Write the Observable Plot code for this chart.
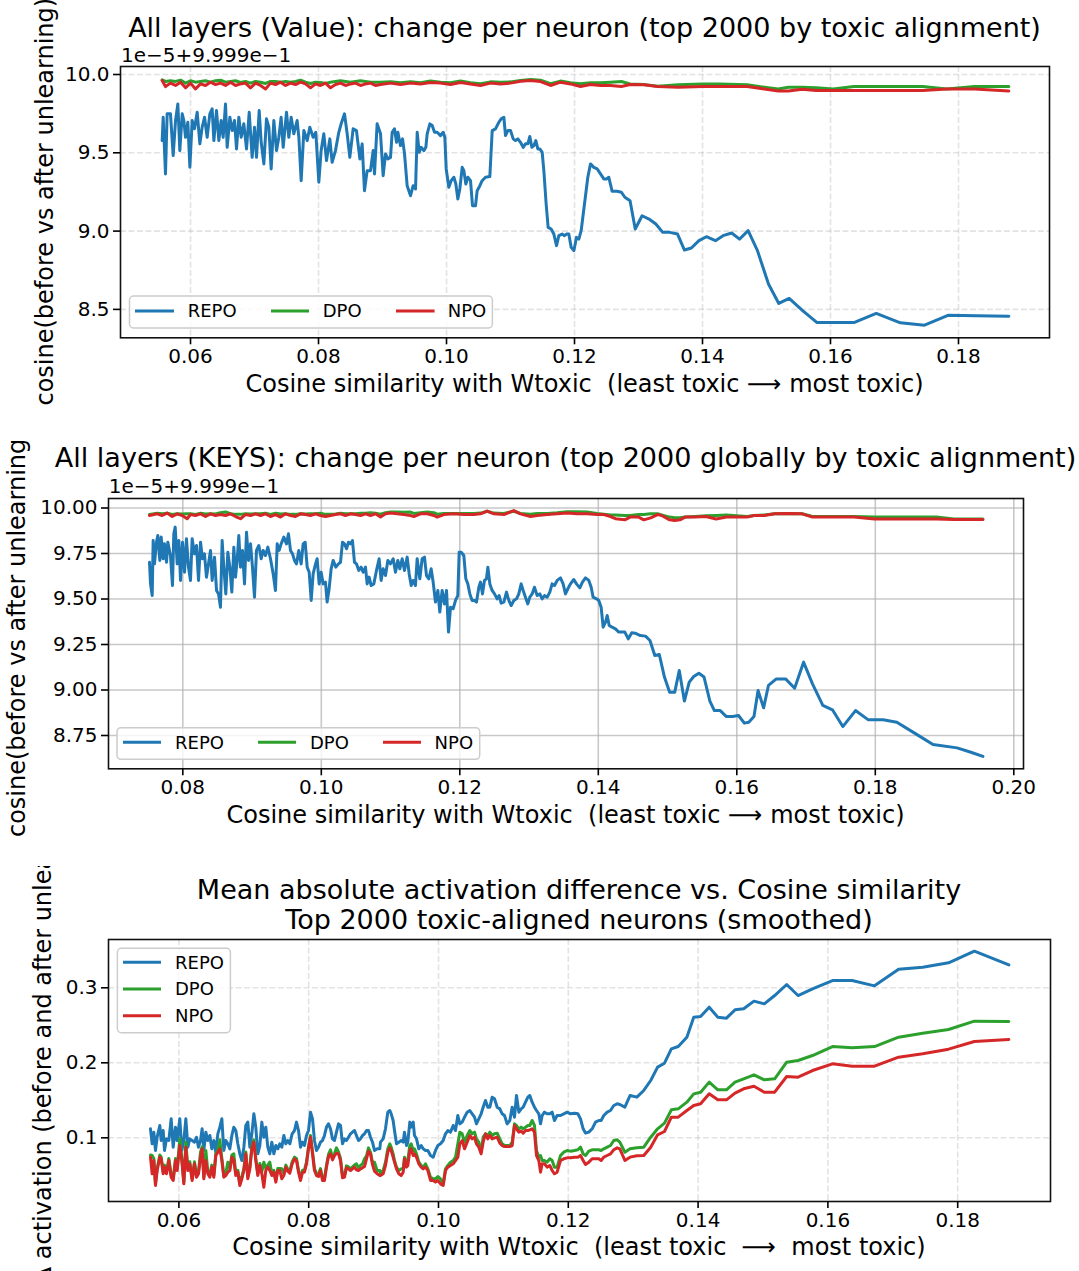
<!DOCTYPE html>
<html>
<head>
<meta charset="utf-8">
<script src="https://cdn.jsdelivr.net/npm/d3@7"></script>
<script src="https://cdn.jsdelivr.net/npm/@observablehq/plot@0.6"></script>
<style>
  html, body { margin: 0; padding: 0; background: #fff; }
  #page { position: relative; width: 1079px; height: 1271px; overflow: hidden; background: #fff; }
  .panel { position: absolute; left: 0; width: 1079px; overflow: hidden; }
  .panel svg { display: block; }
</style>
</head>
<body>
<div id="page"></div>
<script>
// ---------------------------------------------------------------------------
// Series
// ---------------------------------------------------------------------------
const methods = ["REPO", "DPO", "NPO"];
const methodColors = ["#1f77b4", "#2ca02c", "#d62728"];

// Value vectors: cosine(before, after) expressed as offset (x1e-5) from 0.9999
const valueRepoX = [
  0.05557, 0.05573, 0.05609, 0.05635, 0.05687, 0.05729, 0.05766, 0.05802, 0.05833, 0.05870,
  0.05896, 0.05922, 0.05958, 0.05990, 0.06026, 0.06062, 0.06104, 0.06146, 0.06182, 0.06219,
  0.06260, 0.06302, 0.06338, 0.06365, 0.06406, 0.06443, 0.06479, 0.06510, 0.06547, 0.06573,
  0.06615, 0.06651, 0.06687, 0.06719, 0.06755, 0.06792, 0.06833, 0.06875, 0.06917, 0.06963,
  0.07000, 0.07031, 0.07073, 0.07104, 0.07146, 0.07187, 0.07224, 0.07260, 0.07302, 0.07344,
  0.07380, 0.07416, 0.07448, 0.07500, 0.07536, 0.07573, 0.07614, 0.07666, 0.07693, 0.07729,
  0.07771, 0.07823, 0.07864, 0.07916, 0.07958, 0.08005, 0.08041, 0.08083, 0.08125, 0.08177,
  0.08213, 0.08265, 0.08317, 0.08354, 0.08406, 0.08448, 0.08489, 0.08541, 0.08593, 0.08646,
  0.08682, 0.08718, 0.08760, 0.08812, 0.08854, 0.08875, 0.08916, 0.08969,
  0.09010, 0.09047, 0.09083, 0.09125, 0.09151, 0.09187, 0.09219, 0.09240, 0.09281, 0.09313,
  0.09344, 0.09385, 0.09438, 0.09479, 0.09516, 0.09542, 0.09573, 0.09604, 0.09646, 0.09677,
  0.09698, 0.09740, 0.09776, 0.09813, 0.09854, 0.09906, 0.09948, 0.09974, 0.09995, 0.10036,
  0.10073, 0.10115, 0.10146, 0.10177, 0.10208, 0.10245, 0.10271, 0.10302, 0.10333, 0.10375,
  0.10406, 0.10453, 0.10479, 0.10521, 0.10557, 0.10609, 0.10677, 0.10714, 0.10766, 0.10818,
  0.10854, 0.10896, 0.10922, 0.10958, 0.11000, 0.11042, 0.11078, 0.11115, 0.11156, 0.11198,
  0.11234, 0.11271, 0.11302, 0.11333, 0.11365, 0.11396, 0.11427, 0.11458, 0.11495, 0.11521,
  0.11557, 0.11588, 0.11635, 0.11677, 0.11719, 0.11755, 0.11807, 0.11844, 0.11875, 0.11911,
  0.11948, 0.11990, 0.12031, 0.12068, 0.12104, 0.12156, 0.12208, 0.12250, 0.12302, 0.12354,
  0.12406, 0.12458, 0.12500, 0.12536, 0.12588, 0.12666,
  0.12733, 0.12787, 0.12868, 0.12949, 0.13056, 0.13164, 0.13271, 0.13379, 0.13487, 0.13610,
  0.13718, 0.13826, 0.13944, 0.14062, 0.14202, 0.14321, 0.14455, 0.14579, 0.14713, 0.14859,
  0.15031, 0.15192, 0.15354, 0.15569, 0.15790, 0.16016, 0.16366, 0.16715, 0.17092, 0.17469,
  0.17845, 0.18276, 0.18787
];
const valueRepoY = [
  9.578, 9.727, 9.365, 9.749, 9.749, 9.482, 9.706, 9.812, 9.514, 9.749,
  9.706, 9.599, 9.695, 9.408, 9.706, 9.653, 9.759, 9.557, 9.663, 9.727,
  9.599, 9.749, 9.781, 9.578, 9.770, 9.578, 9.706, 9.599, 9.812, 9.535,
  9.727, 9.642, 9.706, 9.525, 9.727, 9.599, 9.685, 9.525, 9.759, 9.471,
  9.663, 9.471, 9.770, 9.567, 9.429, 9.717, 9.663, 9.397, 9.706, 9.514,
  9.599, 9.727, 9.535, 9.759, 9.599, 9.727, 9.621, 9.706, 9.599, 9.322,
  9.642, 9.578, 9.663, 9.599, 9.631, 9.312, 9.514, 9.621, 9.450, 9.589,
  9.439, 9.514, 9.631, 9.685, 9.749, 9.621, 9.471, 9.653, 9.642, 9.461,
  9.557, 9.258, 9.386, 9.386, 9.514, 9.365, 9.685, 9.621,
  9.354, 9.493, 9.461, 9.471, 9.631, 9.653, 9.567, 9.631, 9.546, 9.589,
  9.493, 9.290, 9.226, 9.290, 9.269, 9.631, 9.503, 9.535, 9.514, 9.535,
  9.621, 9.685, 9.674, 9.631, 9.631, 9.610, 9.631, 9.599, 9.397, 9.280,
  9.322, 9.344, 9.301, 9.205, 9.269, 9.407, 9.386, 9.301, 9.344, 9.322,
  9.162, 9.162, 9.258, 9.290, 9.322, 9.344, 9.348, 9.642, 9.653, 9.695,
  9.717, 9.727, 9.610, 9.642, 9.642, 9.589, 9.578, 9.589, 9.567, 9.535,
  9.557, 9.557, 9.604, 9.535, 9.546, 9.578, 9.525, 9.525, 9.503, 9.386,
  9.173, 9.024, 9.013, 8.981, 8.907, 8.971, 8.981, 8.971, 8.981, 8.981,
  8.896, 8.875, 8.960, 8.949, 9.003, 9.173, 9.344, 9.429, 9.407, 9.397,
  9.365, 9.333, 9.333, 9.344, 9.254, 9.254,
  9.248, 9.216, 9.194, 9.013, 9.098, 9.077, 9.045, 8.992, 8.992, 8.981,
  8.879, 8.892, 8.939, 8.964, 8.939, 8.971, 8.988, 8.949, 9.003, 8.875,
  8.662, 8.538, 8.570, 8.491, 8.416, 8.416, 8.416, 8.474, 8.414, 8.399,
  8.463, 8.459, 8.457
];
const valuePrefX = [
  0.05557, 0.05609, 0.05687, 0.05766, 0.05844, 0.05922, 0.06000, 0.06078, 0.06156, 0.06234,
  0.06312, 0.06391, 0.06469, 0.06547, 0.06625, 0.06703, 0.06781, 0.06859, 0.06937, 0.07016,
  0.07094, 0.07172, 0.07250, 0.07328, 0.07406, 0.07484, 0.07562, 0.07641, 0.07719, 0.07797,
  0.07875, 0.07953, 0.08031, 0.08109, 0.08187, 0.08265, 0.08344, 0.08422, 0.08500, 0.08578,
  0.08656, 0.08734, 0.08812, 0.08890, 0.08969,
  0.09125, 0.09281, 0.09438, 0.09594, 0.09750, 0.09906, 0.10063, 0.10219, 0.10375, 0.10531,
  0.10688, 0.10844, 0.11000, 0.11156, 0.11312, 0.11469, 0.11625, 0.11781, 0.11937, 0.12094,
  0.12250, 0.12406, 0.12562,
  0.12733, 0.12868, 0.13083, 0.13298, 0.13621, 0.13998, 0.14267, 0.14697, 0.14966, 0.15182,
  0.15343, 0.15558, 0.15774, 0.16043, 0.16366, 0.16850, 0.17442, 0.17818, 0.18249, 0.18787
];
const valueDpoY = [
  9.966, 9.956, 9.960, 9.956, 9.964, 9.945, 9.960, 9.951, 9.956, 9.960,
  9.951, 9.960, 9.964, 9.951, 9.956, 9.960, 9.949, 9.956, 9.945, 9.956,
  9.951, 9.943, 9.956, 9.956, 9.951, 9.956, 9.951, 9.956, 9.964, 9.951,
  9.943, 9.951, 9.949, 9.943, 9.951, 9.956, 9.960, 9.956, 9.951, 9.956,
  9.960, 9.956, 9.951, 9.951, 9.951,
  9.953, 9.947, 9.953, 9.947, 9.958, 9.951, 9.947, 9.958, 9.947, 9.941,
  9.953, 9.951, 9.953, 9.962, 9.968, 9.964, 9.941, 9.958, 9.947, 9.941,
  9.947, 9.947, 9.951,
  9.955, 9.940, 9.936, 9.925, 9.934, 9.940, 9.940, 9.934, 9.919, 9.908,
  9.919, 9.919, 9.915, 9.908, 9.923, 9.923, 9.923, 9.908, 9.923, 9.923
];
const valueNpoY = [
  9.962, 9.923, 9.945, 9.930, 9.951, 9.915, 9.945, 9.908, 9.940, 9.930,
  9.951, 9.936, 9.945, 9.930, 9.951, 9.930, 9.940, 9.945, 9.915, 9.945,
  9.930, 9.908, 9.945, 9.936, 9.951, 9.930, 9.945, 9.936, 9.951, 9.940,
  9.915, 9.940, 9.930, 9.945, 9.915, 9.936, 9.945, 9.930, 9.940, 9.945,
  9.930, 9.940, 9.945, 9.930, 9.936,
  9.945, 9.936, 9.945, 9.940, 9.949, 9.945, 9.936, 9.949, 9.940, 9.930,
  9.945, 9.940, 9.945, 9.957, 9.962, 9.955, 9.930, 9.951, 9.940, 9.923,
  9.936, 9.930, 9.930,
  9.923, 9.936, 9.934, 9.923, 9.919, 9.923, 9.923, 9.923, 9.908, 9.895,
  9.895, 9.906, 9.898, 9.898, 9.898, 9.898, 9.898, 9.908, 9.908, 9.895
];

// Key vectors: same measure, top 2000 globally
const keysRepoX = [
  0.07519, 0.07534, 0.07558, 0.07572, 0.07591, 0.07620, 0.07639, 0.07668, 0.07688, 0.07716,
  0.07736, 0.07765, 0.07784, 0.07822, 0.07851, 0.07870, 0.07890, 0.07919, 0.07943, 0.07967,
  0.07996, 0.08025, 0.08053, 0.08082, 0.08111, 0.08135, 0.08169, 0.08198, 0.08227, 0.08256,
  0.08284, 0.08313, 0.08342, 0.08371, 0.08400, 0.08424, 0.08458, 0.08487, 0.08516, 0.08544,
  0.08568, 0.08592, 0.08621, 0.08650, 0.08679, 0.08708, 0.08737, 0.08761, 0.08785, 0.08809,
  0.08833, 0.08862, 0.08891, 0.08920, 0.08949, 0.08978, 0.09006, 0.09035, 0.09064, 0.09098,
  0.09132, 0.09160, 0.09194, 0.09228, 0.09266, 0.09305, 0.09338, 0.09363, 0.09391, 0.09420,
  0.09459, 0.09497, 0.09526, 0.09555, 0.09584, 0.09613, 0.09642, 0.09675, 0.09709, 0.09738,
  0.09767, 0.09796, 0.09825, 0.09854, 0.09882, 0.09911, 0.09940, 0.09969, 0.09998, 0.10027,
  0.10060, 0.10084, 0.10113, 0.10142, 0.10171, 0.10210, 0.10248, 0.10277, 0.10306, 0.10335,
  0.10364, 0.10392, 0.10421, 0.10450, 0.10479, 0.10508, 0.10542, 0.10575, 0.10604, 0.10638,
  0.10662, 0.10691, 0.10720, 0.10758, 0.10797, 0.10835,
  0.10864, 0.10893, 0.10927, 0.10961, 0.10999, 0.11038, 0.11071, 0.11105, 0.11134, 0.11168,
  0.11201, 0.11240, 0.11269, 0.11298, 0.11326, 0.11360, 0.11384, 0.11423, 0.11456, 0.11490,
  0.11519, 0.11553, 0.11586, 0.11615, 0.11649, 0.11683, 0.11711, 0.11745, 0.11779, 0.11808,
  0.11837, 0.11866, 0.11904, 0.11938, 0.11971, 0.11991, 0.12020, 0.12058, 0.12087, 0.12116,
  0.12145, 0.12178, 0.12212, 0.12241, 0.12275, 0.12299, 0.12328, 0.12356, 0.12385, 0.12405,
  0.12434, 0.12467, 0.12501, 0.12539, 0.12568, 0.12597, 0.12636, 0.12674, 0.12708, 0.12742,
  0.12780, 0.12819, 0.12852, 0.12886, 0.12915, 0.12948, 0.12982, 0.13011, 0.13045, 0.13078,
  0.13117, 0.13155, 0.13189, 0.13223, 0.13261, 0.13300, 0.13333, 0.13367, 0.13406, 0.13454,
  0.13492, 0.13526, 0.13560, 0.13598, 0.13646, 0.13685, 0.13733, 0.13771, 0.13815, 0.13863,
  0.13897, 0.13925, 0.13974, 0.14007, 0.14041, 0.14070, 0.14104, 0.14128, 0.14157, 0.14200,
  0.14248, 0.14296,
  0.14334, 0.14383, 0.14433, 0.14483, 0.14532, 0.14607, 0.14682, 0.14746, 0.14816, 0.14881,
  0.14955, 0.15030, 0.15104, 0.15169, 0.15243, 0.15313, 0.15378, 0.15452, 0.15527, 0.15611,
  0.15676, 0.15761, 0.15850, 0.15940, 0.16024, 0.16109, 0.16173, 0.16248, 0.16307, 0.16387,
  0.16457, 0.16571, 0.16705, 0.16835, 0.16964, 0.17093, 0.17242, 0.17381, 0.17531, 0.17714,
  0.17899, 0.18112, 0.18311, 0.18585, 0.18833, 0.19181, 0.19380, 0.19554
];
const keysRepoY = [
  9.702, 9.583, 9.519, 9.821, 9.693, 9.812, 9.849, 9.712, 9.840, 9.721,
  9.803, 9.702, 9.812, 9.739, 9.574, 9.858, 9.895, 9.693, 9.821, 9.602,
  9.812, 9.647, 9.831, 9.675, 9.602, 9.831, 9.748, 9.794, 9.602, 9.812,
  9.721, 9.748, 9.620, 9.693, 9.767, 9.602, 9.730, 9.547, 9.528, 9.455,
  9.821, 9.675, 9.528, 9.757, 9.675, 9.538, 9.785, 9.620, 9.712, 9.849,
  9.675, 9.767, 9.583, 9.867, 9.712, 9.803, 9.675, 9.510, 9.767, 9.794,
  9.721, 9.767, 9.739, 9.785, 9.721, 9.638, 9.547, 9.803, 9.767, 9.803,
  9.840, 9.803, 9.858, 9.767, 9.748, 9.712, 9.693, 9.767, 9.693, 9.803,
  9.812, 9.675, 9.647, 9.492, 9.638, 9.684, 9.721, 9.583, 9.647, 9.583,
  9.593, 9.483, 9.556, 9.666, 9.712, 9.675, 9.693, 9.702, 9.812, 9.803,
  9.776, 9.812, 9.803, 9.821, 9.702, 9.693, 9.657, 9.675, 9.647, 9.675,
  9.583, 9.620, 9.574, 9.583, 9.657, 9.721,
  9.602, 9.666, 9.629, 9.712, 9.693, 9.721, 9.647, 9.712, 9.666, 9.721,
  9.657, 9.730, 9.638, 9.574, 9.602, 9.574, 9.721, 9.611, 9.721, 9.730,
  9.629, 9.611, 9.666, 9.593, 9.483, 9.547, 9.428, 9.547, 9.473, 9.547,
  9.318, 9.455, 9.446, 9.492, 9.519, 9.757, 9.757, 9.739, 9.611, 9.583,
  9.528, 9.492, 9.492, 9.483, 9.565, 9.593, 9.528, 9.602, 9.611, 9.675,
  9.583, 9.547, 9.528, 9.501, 9.519, 9.477, 9.483, 9.538, 9.492, 9.464,
  9.492, 9.501, 9.528, 9.583, 9.547, 9.510, 9.473, 9.510, 9.528, 9.565,
  9.519, 9.528, 9.501, 9.519, 9.510, 9.538, 9.583, 9.574, 9.602, 9.616,
  9.583, 9.528, 9.556, 9.583, 9.607, 9.583, 9.561, 9.593, 9.616, 9.602,
  9.565, 9.510, 9.501, 9.492, 9.455, 9.345, 9.373, 9.409, 9.355, 9.345,
  9.336, 9.318,
  9.318, 9.318, 9.281, 9.314, 9.312, 9.299, 9.296, 9.272, 9.190, 9.195,
  9.071, 8.988, 8.988, 9.107, 8.939, 9.043, 9.074, 9.092, 9.071, 8.939,
  8.887, 8.887, 8.854, 8.854, 8.860, 8.818, 8.823, 8.854, 8.997, 8.902,
  9.025, 9.061, 9.061, 9.010, 9.153, 9.034, 8.915, 8.891, 8.799, 8.887,
  8.836, 8.836, 8.823, 8.759, 8.700, 8.682, 8.658, 8.635
];
const keysPrefX = [
  0.07519, 0.07630, 0.07702, 0.07774, 0.07846, 0.07919, 0.07991, 0.08063, 0.08111, 0.08183,
  0.08256, 0.08328, 0.08400, 0.08472, 0.08544, 0.08617, 0.08689, 0.08761, 0.08833, 0.08905,
  0.08978, 0.09050, 0.09122, 0.09194, 0.09266, 0.09339, 0.09411, 0.09483, 0.09555, 0.09627,
  0.09699, 0.09772, 0.09844, 0.09916, 0.09988, 0.10060, 0.10133, 0.10205, 0.10277, 0.10349,
  0.10421, 0.10494, 0.10566, 0.10638, 0.10710, 0.10782,
  0.10855, 0.10927, 0.10999, 0.11095, 0.11192, 0.11288, 0.11336, 0.11432, 0.11529, 0.11625,
  0.11673, 0.11769, 0.11914, 0.12058, 0.12202, 0.12299, 0.12395, 0.12491, 0.12636, 0.12780,
  0.12876, 0.13021, 0.13117, 0.13261, 0.13406, 0.13550, 0.13694, 0.13839, 0.13983, 0.14079,
  0.14176, 0.14248,
  0.14383, 0.14458, 0.14582, 0.14657, 0.14756, 0.14856, 0.14915, 0.15030, 0.15104, 0.15179,
  0.15253, 0.15403, 0.15552, 0.15701, 0.15850, 0.15999, 0.16148, 0.16248, 0.16397, 0.16546,
  0.16745, 0.16944, 0.17093, 0.17391, 0.17690, 0.17988, 0.18386, 0.18883, 0.19132, 0.19554
];
const keysDpoY = [
  9.965, 9.971, 9.969, 9.971, 9.965, 9.969, 9.967, 9.969, 9.969, 9.965,
  9.971, 9.967, 9.969, 9.967, 9.974, 9.978, 9.969, 9.965, 9.965, 9.969,
  9.967, 9.969, 9.969, 9.971, 9.965, 9.971, 9.967, 9.969, 9.965, 9.965,
  9.969, 9.967, 9.969, 9.969, 9.971, 9.965, 9.965, 9.967, 9.971, 9.969,
  9.969, 9.969, 9.971, 9.971, 9.974, 9.971,
  9.966, 9.974, 9.978, 9.978, 9.976, 9.978, 9.970, 9.974, 9.978, 9.974,
  9.966, 9.970, 9.970, 9.970, 9.970, 9.972, 9.982, 9.972, 9.970, 9.982,
  9.970, 9.966, 9.970, 9.970, 9.974, 9.980, 9.980, 9.978, 9.970, 9.966,
  9.962, 9.962,
  9.959, 9.959, 9.964, 9.964, 9.968, 9.968, 9.962, 9.950, 9.946, 9.946,
  9.950, 9.953, 9.957, 9.959, 9.962, 9.957, 9.953, 9.959, 9.962, 9.968,
  9.970, 9.968, 9.953, 9.953, 9.953, 9.950, 9.950, 9.950, 9.940, 9.940
];
const keysNpoY = [
  9.959, 9.968, 9.959, 9.972, 9.953, 9.968, 9.959, 9.941, 9.964, 9.959,
  9.968, 9.953, 9.968, 9.959, 9.964, 9.959, 9.968, 9.953, 9.941, 9.964,
  9.959, 9.968, 9.959, 9.968, 9.953, 9.964, 9.950, 9.968, 9.959, 9.953,
  9.968, 9.964, 9.959, 9.968, 9.959, 9.953, 9.959, 9.964, 9.968, 9.959,
  9.968, 9.964, 9.959, 9.968, 9.959, 9.968,
  9.950, 9.968, 9.972, 9.968, 9.964, 9.959, 9.953, 9.968, 9.968, 9.959,
  9.950, 9.964, 9.968, 9.964, 9.964, 9.968, 9.983, 9.968, 9.964, 9.986,
  9.968, 9.953, 9.959, 9.964, 9.968, 9.972, 9.968, 9.968, 9.964, 9.964,
  9.953, 9.941,
  9.935, 9.950, 9.950, 9.935, 9.946, 9.964, 9.959, 9.935, 9.931, 9.935,
  9.950, 9.950, 9.953, 9.940, 9.950, 9.950, 9.950, 9.959, 9.959, 9.968,
  9.970, 9.968, 9.950, 9.950, 9.950, 9.940, 9.940, 9.940, 9.937, 9.937
];

// Mean absolute activation difference (smoothed), shared x grid for all three methods
const activationX = [
  0.05562, 0.05588, 0.05614, 0.05639, 0.05665, 0.05706, 0.05727, 0.05758, 0.05778, 0.05809,
  0.05845, 0.05881, 0.05912, 0.05948, 0.05973, 0.06014, 0.06045, 0.06076, 0.06107, 0.06138,
  0.06168, 0.06204, 0.06240, 0.06271, 0.06302, 0.06333, 0.06358, 0.06384, 0.06415, 0.06446,
  0.06477, 0.06507, 0.06538, 0.06569, 0.06600, 0.06631, 0.06662, 0.06692, 0.06723, 0.06754,
  0.06785, 0.06816, 0.06846, 0.06877, 0.06908, 0.06939, 0.06970, 0.07001, 0.07031, 0.07062,
  0.07093, 0.07124, 0.07155, 0.07185, 0.07216, 0.07247, 0.07278, 0.07309, 0.07339, 0.07370,
  0.07401, 0.07432, 0.07463, 0.07494, 0.07524, 0.07555, 0.07586, 0.07617, 0.07648, 0.07678,
  0.07709, 0.07745, 0.07781, 0.07812, 0.07843, 0.07874, 0.07905, 0.07935, 0.07966, 0.07997,
  0.08028, 0.08059, 0.08089, 0.08120, 0.08151, 0.08182, 0.08213, 0.08243, 0.08274, 0.08305,
  0.08336, 0.08367, 0.08398, 0.08428, 0.08459, 0.08490, 0.08521, 0.08552, 0.08582, 0.08613,
  0.08644, 0.08675, 0.08706, 0.08736, 0.08767, 0.08798, 0.08829, 0.08860, 0.08891, 0.08921,
  0.08952, 0.08983, 0.09014, 0.09055, 0.09096,
  0.09106, 0.09147, 0.09183, 0.09219, 0.09250, 0.09271, 0.09301, 0.09322, 0.09353, 0.09389,
  0.09425, 0.09456, 0.09476, 0.09507, 0.09527, 0.09558, 0.09579, 0.09610, 0.09630, 0.09661,
  0.09697, 0.09733, 0.09764, 0.09800, 0.09836, 0.09877, 0.09918, 0.09954, 0.09990, 0.10031,
  0.10072, 0.10108, 0.10144, 0.10185, 0.10226, 0.10262, 0.10298, 0.10329, 0.10365, 0.10401,
  0.10442, 0.10483, 0.10519, 0.10555, 0.10585, 0.10621, 0.10657, 0.10688, 0.10724, 0.10760,
  0.10791, 0.10827, 0.10863, 0.10904, 0.10945, 0.10981, 0.11017, 0.11058, 0.11099, 0.11135,
  0.11171, 0.11202, 0.11238, 0.11274, 0.11305, 0.11341, 0.11377, 0.11407, 0.11443, 0.11479,
  0.11510, 0.11546, 0.11572, 0.11597, 0.11633, 0.11674, 0.11715, 0.11751, 0.11787, 0.11828,
  0.11880, 0.11931, 0.11983, 0.12034, 0.12096, 0.12147, 0.12188, 0.12229, 0.12265, 0.12316,
  0.12368, 0.12419, 0.12470, 0.12506, 0.12547, 0.12599, 0.12650, 0.12701, 0.12753, 0.12794,
  0.12872, 0.12951, 0.13057, 0.13163, 0.13270, 0.13376, 0.13482, 0.13588, 0.13694, 0.13827,
  0.13933, 0.14039, 0.14171, 0.14304, 0.14437, 0.14569, 0.14702, 0.14861, 0.15020, 0.15180,
  0.15365, 0.15540, 0.15763, 0.16071, 0.16373, 0.16718, 0.17090, 0.17461, 0.17859, 0.18257,
  0.18788
];
const activationRepo = [
  0.1120, 0.0920, 0.1075, 0.0831, 0.1008, 0.1164, 0.0964, 0.1097, 0.0831, 0.0986,
  0.0964, 0.1253, 0.0875, 0.1142, 0.0964, 0.1253, 0.0831, 0.0964, 0.1253, 0.0875,
  0.0986, 0.0964, 0.0942, 0.1008, 0.0875, 0.0964, 0.1120, 0.0831, 0.1075, 0.0964,
  0.1031, 0.0853, 0.0964, 0.0809, 0.1053, 0.1142, 0.1253, 0.0831, 0.0964, 0.0920,
  0.0853, 0.1031, 0.1142, 0.1097, 0.0920, 0.0786, 0.0697, 0.0875, 0.1164, 0.1209,
  0.0875, 0.1053, 0.1320, 0.1142, 0.0786, 0.0897, 0.1209, 0.1008, 0.1142, 0.0875,
  0.0786, 0.0942, 0.0786, 0.0897, 0.0853, 0.0920, 0.0875, 0.1031, 0.0920, 0.0964,
  0.0920, 0.1053, 0.1097, 0.1209, 0.1097, 0.0875, 0.0942, 0.0897, 0.1031, 0.1097,
  0.1342, 0.1253, 0.0964, 0.0831, 0.0875, 0.0942, 0.0964, 0.1031, 0.1142, 0.1186,
  0.1120, 0.0986, 0.0964, 0.1075, 0.1186, 0.1164, 0.0920, 0.0986, 0.0964, 0.1008,
  0.1053, 0.1075, 0.1097, 0.1031, 0.0964, 0.0986, 0.1031, 0.1053, 0.1097, 0.1097,
  0.1008, 0.0942, 0.0831, 0.0853, 0.0853,
  0.0942, 0.0986, 0.1120, 0.1342, 0.1364, 0.1320, 0.1231, 0.1097, 0.0920, 0.0942,
  0.0964, 0.0942, 0.1075, 0.0897, 0.0942, 0.1209, 0.1142, 0.1209, 0.1031, 0.0986,
  0.0853, 0.0897, 0.0853, 0.0831, 0.0831, 0.0764, 0.0742, 0.0831, 0.0897, 0.0920,
  0.0964, 0.1053, 0.1097, 0.1075, 0.1164, 0.1097, 0.1297, 0.1186, 0.1209, 0.1275,
  0.1342, 0.1364, 0.1320, 0.1275, 0.1186, 0.1253, 0.1320, 0.1408, 0.1497, 0.1408,
  0.1408, 0.1542, 0.1520, 0.1408, 0.1386, 0.1320, 0.1297, 0.1186, 0.1231, 0.1408,
  0.1275, 0.1564, 0.1342, 0.1386, 0.1408, 0.1475, 0.1542, 0.1564, 0.1475, 0.1408,
  0.1364, 0.1320, 0.1186, 0.1297, 0.1342, 0.1320, 0.1320, 0.1342, 0.1231, 0.1297,
  0.1297, 0.1320, 0.1342, 0.1320, 0.1328, 0.1320, 0.1253, 0.1120, 0.1062, 0.1075,
  0.1120, 0.1209, 0.1231, 0.1231, 0.1297, 0.1342, 0.1364, 0.1431, 0.1453, 0.1444,
  0.1409, 0.1564, 0.1542, 0.1631, 0.1764, 0.1942, 0.1995, 0.2186, 0.2217, 0.2342,
  0.2608, 0.2617, 0.2742, 0.2608, 0.2595, 0.2706, 0.2720, 0.2822, 0.2786, 0.2897,
  0.3044, 0.2897, 0.2986, 0.3097, 0.3097, 0.3026, 0.3248, 0.3275, 0.3333, 0.3488,
  0.3306
];
const activationDpo = [
  0.0770, 0.0764, 0.0725, 0.0390, 0.0590, 0.0770, 0.0745, 0.0548, 0.0636, 0.0548,
  0.0725, 0.0500, 0.0458, 0.0725, 0.0590, 0.0986, 0.0725, 0.0412, 0.0942, 0.0590,
  0.0680, 0.0458, 0.0680, 0.0500, 0.0548, 0.0809, 0.0880, 0.0480, 0.0831, 0.0548,
  0.0500, 0.0636, 0.0500, 0.0790, 0.0836, 0.0973, 0.0725, 0.0500, 0.0524, 0.0675,
  0.0590, 0.0770, 0.0786, 0.0524, 0.0568, 0.0390, 0.0480, 0.0590, 0.0812, 0.0480,
  0.0612, 0.0880, 0.0973, 0.0725, 0.0524, 0.0658, 0.0548, 0.0675, 0.0590, 0.0636,
  0.0675, 0.0524, 0.0568, 0.0436, 0.0590, 0.0590, 0.0586, 0.0524, 0.0636, 0.0582,
  0.0556, 0.0680, 0.0742, 0.0725, 0.0568, 0.0458, 0.0568, 0.0568, 0.0680, 0.0880,
  0.1031, 0.0812, 0.0590, 0.0524, 0.0510, 0.0590, 0.0458, 0.0458, 0.0636, 0.0778,
  0.0840, 0.0732, 0.0790, 0.0866, 0.0812, 0.0725, 0.0492, 0.0500, 0.0626, 0.0612,
  0.0590, 0.0612, 0.0636, 0.0653, 0.0600, 0.0630, 0.0650, 0.0720, 0.0760, 0.0866,
  0.0810, 0.0670, 0.0675, 0.0560, 0.0564,
  0.0520, 0.0564, 0.0675, 0.0853, 0.0920, 0.0875, 0.0786, 0.0697, 0.0609, 0.0564,
  0.0586, 0.0586, 0.0742, 0.0653, 0.0697, 0.0897, 0.0920, 0.0831, 0.0853, 0.0786,
  0.0675, 0.0631, 0.0609, 0.0653, 0.0586, 0.0475, 0.0453, 0.0453, 0.0484, 0.0453,
  0.0386, 0.0586, 0.0631, 0.0675, 0.0697, 0.0742, 0.0920, 0.1075, 0.1053, 0.0942,
  0.1031, 0.1097, 0.1053, 0.1075, 0.0986, 0.0942, 0.0809, 0.1008, 0.1053, 0.1031,
  0.1075, 0.1031, 0.1053, 0.1062, 0.0986, 0.0920, 0.0897, 0.0897, 0.0897, 0.0942,
  0.1186, 0.1164, 0.1120, 0.1142, 0.1120, 0.1142, 0.1164, 0.1164, 0.1231, 0.1164,
  0.0831, 0.0742, 0.0764, 0.0697, 0.0697, 0.0675, 0.0720, 0.0697, 0.0609, 0.0609,
  0.0764, 0.0809, 0.0831, 0.0822, 0.0831, 0.0840, 0.0875, 0.0786, 0.0764, 0.0822,
  0.0840, 0.0840, 0.0840, 0.0831, 0.0853, 0.0875, 0.0897, 0.0964, 0.0973, 0.0942,
  0.0808, 0.0853, 0.0866, 0.0875, 0.1008, 0.1120, 0.1195, 0.1373, 0.1386, 0.1475,
  0.1586, 0.1608, 0.1742, 0.1640, 0.1640, 0.1742, 0.1786, 0.1840, 0.1773, 0.1786,
  0.2008, 0.2031, 0.2097, 0.2217, 0.2200, 0.2217, 0.2342, 0.2395, 0.2444, 0.2555,
  0.2551
];
const activationNpo = [
  0.0742, 0.0520, 0.0697, 0.0364, 0.0564, 0.0742, 0.0720, 0.0520, 0.0609, 0.0520,
  0.0697, 0.0475, 0.0431, 0.0697, 0.0564, 0.0897, 0.0697, 0.0386, 0.0875, 0.0564,
  0.0653, 0.0431, 0.0653, 0.0475, 0.0520, 0.0742, 0.0853, 0.0453, 0.0697, 0.0520,
  0.0475, 0.0609, 0.0475, 0.0764, 0.0809, 0.0853, 0.0697, 0.0475, 0.0497, 0.0542,
  0.0564, 0.0742, 0.0697, 0.0497, 0.0542, 0.0364, 0.0453, 0.0564, 0.0786, 0.0453,
  0.0586, 0.0853, 0.0942, 0.0697, 0.0497, 0.0631, 0.0520, 0.0342, 0.0564, 0.0609,
  0.0564, 0.0497, 0.0542, 0.0409, 0.0564, 0.0564, 0.0453, 0.0497, 0.0609, 0.0555,
  0.0529, 0.0653, 0.0720, 0.0697, 0.0542, 0.0431, 0.0542, 0.0542, 0.0653, 0.0853,
  0.1008, 0.0786, 0.0564, 0.0497, 0.0484, 0.0564, 0.0431, 0.0431, 0.0609, 0.0751,
  0.0786, 0.0706, 0.0764, 0.0795, 0.0786, 0.0697, 0.0466, 0.0475, 0.0600, 0.0586,
  0.0564, 0.0586, 0.0609, 0.0573, 0.0564, 0.0586, 0.0600, 0.0617, 0.0720, 0.0822,
  0.0786, 0.0644, 0.0555, 0.0520, 0.0497,
  0.0497, 0.0520, 0.0631, 0.0809, 0.0866, 0.0831, 0.0742, 0.0675, 0.0586, 0.0520,
  0.0497, 0.0542, 0.0720, 0.0609, 0.0631, 0.0831, 0.0853, 0.0764, 0.0786, 0.0742,
  0.0653, 0.0609, 0.0586, 0.0609, 0.0564, 0.0431, 0.0431, 0.0409, 0.0431, 0.0386,
  0.0364, 0.0564, 0.0609, 0.0631, 0.0653, 0.0697, 0.0742, 0.0920, 0.0964, 0.0853,
  0.0942, 0.1031, 0.0986, 0.1008, 0.0920, 0.0875, 0.0786, 0.0942, 0.1053, 0.0986,
  0.1031, 0.0986, 0.0999, 0.1008, 0.0928, 0.0897, 0.0884, 0.0884, 0.0884, 0.0897,
  0.1164, 0.1120, 0.1075, 0.1088, 0.1062, 0.1097, 0.1097, 0.1106, 0.1120, 0.1075,
  0.0764, 0.0697, 0.0542, 0.0653, 0.0653, 0.0609, 0.0631, 0.0564, 0.0520, 0.0542,
  0.0697, 0.0720, 0.0733, 0.0733, 0.0742, 0.0742, 0.0764, 0.0697, 0.0644, 0.0675,
  0.0720, 0.0720, 0.0720, 0.0697, 0.0742, 0.0764, 0.0786, 0.0840, 0.0866, 0.0853,
  0.0697, 0.0742, 0.0760, 0.0764, 0.0875, 0.1040, 0.1084, 0.1275, 0.1275, 0.1364,
  0.1431, 0.1453, 0.1586, 0.1506, 0.1506, 0.1595, 0.1653, 0.1688, 0.1608, 0.1608,
  0.1817, 0.1808, 0.1897, 0.1986, 0.1955, 0.1955, 0.2075, 0.2120, 0.2182, 0.2284,
  0.2311
];

// Tick values
const ticksX06 = [0.06, 0.08, 0.10, 0.12, 0.14, 0.16, 0.18];
const ticksX08 = [0.08, 0.10, 0.12, 0.14, 0.16, 0.18, 0.20];
const ticksValueY = [8.5, 9.0, 9.5, 10.0];
const ticksKeysY = [8.75, 9.0, 9.25, 9.5, 9.75, 10.0];
const ticksActivationY = [0.1, 0.2, 0.3];

// ---------------------------------------------------------------------------
// Drawing
// ---------------------------------------------------------------------------
const FONT = "DejaVu Sans, Verdana, sans-serif";

function seriesRows(xs, ys, name) {
  if (xs.length !== ys.length) throw new Error(`${name}: ${xs.length} x vs ${ys.length} y`);
  return xs.map((x, i) => ({x, y: ys[i]}));
}

function addText(svg, {x, y, text, size, anchor = "start", rotate = 0}) {
  d3.select(svg).append("text")
    .attr("transform", `translate(${x},${y})` + (rotate ? ` rotate(${rotate})` : ""))
    .attr("text-anchor", anchor)
    .attr("font-family", FONT)
    .attr("font-size", size)
    .attr("fill", "#000")
    .style("white-space", "pre")
    .text(text);
}

function addLegend(svg, {box, entries}) {
  const g = d3.select(svg).append("g");
  g.append("rect")
    .attr("x", box[0]).attr("y", box[1]).attr("width", box[2]).attr("height", box[3])
    .attr("rx", 4).attr("fill", "#fff").attr("fill-opacity", 0.8)
    .attr("stroke", "#cccccc").attr("stroke-width", 1.5);
  entries.forEach(e => {
    g.append("line")
      .attr("x1", e.x0).attr("x2", e.x1).attr("y1", e.y).attr("y2", e.y)
      .attr("stroke", e.color).attr("stroke-width", 3);
    g.append("text")
      .attr("x", e.tx).attr("y", e.y).attr("dy", "0.36em")
      .attr("text-anchor", "start")
      .attr("font-family", FONT).attr("font-size", 18).attr("fill", "#000")
      .text(e.label);
  });
}

function makePanel(cfg) {
  const div = document.createElement("div");
  div.className = "panel";
  div.style.top = cfg.top + "px";
  div.style.height = cfg.height + "px";
  document.getElementById("page").appendChild(div);

  const gridStyle = cfg.dashed
    ? {stroke: "#b0b0b0", strokeOpacity: 0.35, strokeWidth: 1.6, strokeDasharray: "5.9,2.6"}
    : {stroke: "#b0b0b0", strokeOpacity: 0.7, strokeWidth: 1.6};

  const lines = cfg.series.map((s, i) =>
    Plot.line(s.rows, {x: "x", y: "y", stroke: methodColors[i], strokeWidth: 3, clip: true})
  );

  const svg = Plot.plot({
    width: 1079,
    height: cfg.height,
    marginLeft: cfg.margin.left,
    marginRight: cfg.margin.right,
    marginTop: cfg.margin.top,
    marginBottom: cfg.margin.bottom,
    x: {domain: cfg.xDomain},
    y: {domain: cfg.yDomain},
    style: {fontFamily: FONT, fontSize: "20px", color: "#000", background: "#fff"},
    marks: [
      Plot.gridX(cfg.xTicks, gridStyle),
      Plot.gridY(cfg.yTicks, gridStyle),
      ...lines,
      Plot.frame({stroke: "#111", strokeWidth: 1.6}),
      Plot.axisX(cfg.xTicks, {tickFormat: d3.format(".2f"), tickSize: 7, tickPadding: 4, fontSize: 20, strokeWidth: 1.6, label: null}),
      Plot.axisY(cfg.yTicks, {tickFormat: d3.format(cfg.yFormat), tickSize: 7, tickPadding: 4, fontSize: 20, strokeWidth: 1.6, label: null})
    ]
  });
  div.appendChild(svg);

  cfg.titles.forEach(t => addText(svg, {x: t.x, y: t.y, text: t.text, size: 27, anchor: "middle"}));
  if (cfg.offset) addText(svg, {x: cfg.offset.x, y: cfg.offset.y, text: "1e\u22125+9.999e\u22121", size: 20});
  addText(svg, {x: cfg.xlabel.x, y: cfg.xlabel.y, text: cfg.xlabel.text, size: 24, anchor: "middle"});
  addText(svg, {x: cfg.ylabel.x, y: cfg.ylabel.y, text: cfg.ylabel.text, size: 24, anchor: "middle", rotate: -90});
  addLegend(svg, cfg.legend);
}

const xLabelText = "Cosine similarity with Wtoxic  (least toxic \u27F6 most toxic)";
const cosLabelText = "cosine(before vs after unlearning)";

// Panel 1: value vectors
makePanel({
  top: 0, height: 438,
  margin: {left: 120, right: 30, top: 66, bottom: 100.7},
  xDomain: [0.04906, 0.19422], yDomain: [8.3186, 10.0511],
  xTicks: ticksX06, yTicks: ticksValueY, yFormat: ".1f", dashed: true,
  series: [
    {rows: seriesRows(valueRepoX, valueRepoY, "value REPO")},
    {rows: seriesRows(valuePrefX, valueDpoY, "value DPO")},
    {rows: seriesRows(valuePrefX, valueNpoY, "value NPO")}
  ],
  titles: [{x: 584.5, y: 37, text: "All layers (Value): change per neuron (top 2000 by toxic alignment)"}],
  offset: {x: 121, y: 61.7},
  xlabel: {x: 584.5, y: 391.7, text: xLabelText},
  ylabel: {x: 53, y: 201.7, text: cosLabelText},
  legend: {
    box: [129.5, 296, 362.9, 32],
    entries: [
      {label: methods[0], color: methodColors[0], x0: 135, x1: 174, tx: 187.7, y: 311},
      {label: methods[1], color: methodColors[1], x0: 271, x1: 309, tx: 322.7, y: 311},
      {label: methods[2], color: methodColors[2], x0: 396, x1: 434.6, tx: 447.7, y: 311}
    ]
  }
});

// Panel 2: key vectors
makePanel({
  top: 438, height: 428,
  margin: {left: 108, right: 56, top: 60, bottom: 97.7},
  xDomain: [0.06927, 0.20140], yDomain: [8.5670, 10.0522],
  xTicks: ticksX08, yTicks: ticksKeysY, yFormat: ".2f", dashed: false,
  series: [
    {rows: seriesRows(keysRepoX, keysRepoY, "keys REPO")},
    {rows: seriesRows(keysPrefX, keysDpoY, "keys DPO")},
    {rows: seriesRows(keysPrefX, keysNpoY, "keys NPO")}
  ],
  titles: [{x: 565.5, y: 28.7, text: "All layers (KEYS): change per neuron (top 2000 globally by toxic alignment)"}],
  offset: {x: 108.8, y: 54.7},
  xlabel: {x: 565.5, y: 385, text: xLabelText},
  ylabel: {x: 25, y: 195.2, text: cosLabelText},
  legend: {
    box: [117, 289.7, 362.7, 31.6],
    entries: [
      {label: methods[0], color: methodColors[0], x0: 123, x1: 161, tx: 175, y: 304.3},
      {label: methods[1], color: methodColors[1], x0: 258, x1: 296, tx: 310, y: 304.3},
      {label: methods[2], color: methodColors[2], x0: 383, x1: 421, tx: 434.6, y: 304.3}
    ]
  }
});

// Panel 3: activation difference
makePanel({
  top: 866, height: 405,
  margin: {left: 108, right: 29, top: 73, bottom: 70},
  xDomain: [0.049153, 0.19430], yDomain: [0.01507, 0.3644],
  xTicks: ticksX06, yTicks: ticksActivationY, yFormat: ".1f", dashed: true,
  series: [
    {rows: seriesRows(activationX, activationRepo, "act REPO")},
    {rows: seriesRows(activationX, activationDpo, "act DPO")},
    {rows: seriesRows(activationX, activationNpo, "act NPO")}
  ],
  titles: [
    {x: 579, y: 33.3, text: "Mean absolute activation difference vs. Cosine similarity"},
    {x: 579, y: 63.3, text: "Top 2000 toxic-aligned neurons (smoothed)"}
  ],
  offset: null,
  xlabel: {x: 579, y: 389, text: "Cosine similarity with Wtoxic  (least toxic  \u27F6  most toxic)"},
  ylabel: {x: 51, y: 204, text: "Mean \u0394 activation (before and after unlearning)"},
  legend: {
    box: [117.4, 82.3, 113, 84.4],
    entries: [
      {label: methods[0], color: methodColors[0], x0: 123, x1: 161, tx: 175, y: 96.3},
      {label: methods[1], color: methodColors[1], x0: 123, x1: 161, tx: 175, y: 123},
      {label: methods[2], color: methodColors[2], x0: 123, x1: 161, tx: 175, y: 149.7}
    ]
  }
});
</script>
</body>
</html>
